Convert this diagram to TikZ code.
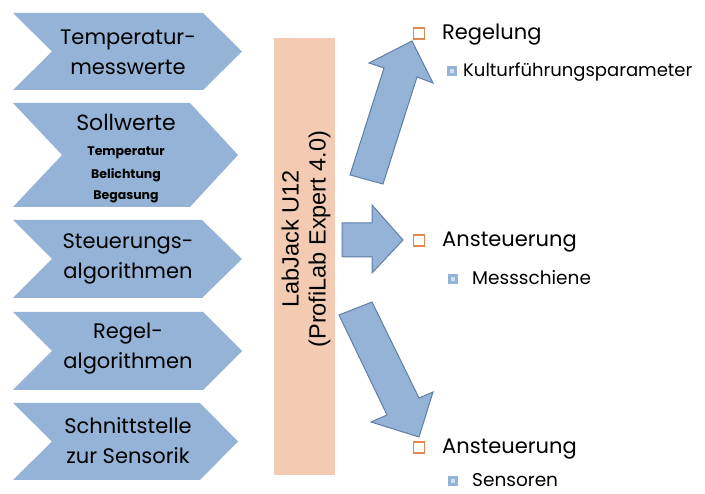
\documentclass[tikz,border=0pt]{standalone}
\usepackage{fontspec}
\setmainfont{Poppins}
\newfontfamily\arialf{Liberation Sans}
\definecolor{chevblue}{HTML}{95B3D7}
\definecolor{arrowline}{HTML}{5F7FA5}
\definecolor{peach}{HTML}{F3CBB3}
\definecolor{bulor}{HTML}{E4894E}
\definecolor{bulin}{HTML}{D0DEEE}
\begin{document}
\begin{tikzpicture}[x=1pt,y=-1pt,
  chev/.style={fill=chevblue,draw=none},
  blockarrow/.style={fill=chevblue,draw=arrowline,line width=1pt,line join=miter},
  chevtext/.style={align=center,inner sep=0pt,font=\fontsize{21}{30}\selectfont},
  subtext/.style={align=center,inner sep=0pt,font=\bfseries\fontsize{12.5}{15}\selectfont},
  maintext/.style={anchor=base west,inner sep=0pt,font=\fontsize{21}{25}\selectfont},
  subitem/.style={anchor=base west,inner sep=0pt,font=\fontsize{18.5}{22}\selectfont},
  obullet/.style={draw=bulor,line width=1.5pt,minimum size=11pt,inner sep=0pt},
  bbullet/.style={fill=chevblue,minimum size=10pt,inner sep=0pt}
]
\useasboundingbox (0,0) rectangle (705,494);

% chevrons
\path[chev] (13,13) -- (203,13) -- (242,51.5) -- (203,90) -- (13,90) -- (52,51.5) -- cycle;
\path[chev] (13,103) -- (190,103) -- (238,155) -- (190,207) -- (13,207) -- (62,155) -- cycle;
\path[chev] (13,220) -- (202,220) -- (242,259) -- (202,298) -- (13,298) -- (52,259) -- cycle;
\path[chev] (13,312) -- (203,312) -- (242,351) -- (203,390) -- (13,390) -- (52,351) -- cycle;
\path[chev] (13,403) -- (200,403) -- (238,441.5) -- (200,480) -- (13,480) -- (52,441.5) -- cycle;

\node[chevtext] (t1) at (128,52) {Temperatur-\\messwerte};
\node[chevtext,font=\fontsize{22}{30}\selectfont] (t2) at (126,122) {Sollwerte};
\node[subtext] (t2a) at (126,153) {Temperatur};
\node[subtext] (t2b) at (126,175) {Belichtung};
\node[subtext] (t2c) at (126,197) {Begasung};
\node[chevtext] (t3) at (128,259) {Steuerungs-\\algorithmen};
\node[chevtext] (t4) at (128,349) {Regel-\\algorithmen};
\node[chevtext] (t5) at (128,441) {Schnittstelle\\zur Sensorik};

% LabJack box
\path[fill=peach] (274,38) rectangle (335,475);
\node[rotate=90,align=center,inner sep=0pt,font=\arialf\fontsize{23.5}{27}\selectfont] (lj) at (306,239) {LabJack U12\\(ProfiLab Expert 4.0)};

% block arrows
\draw[blockarrow] (350,175) -- (384,68) -- (369,63) -- (412,41) -- (433,83) -- (417,77) -- (383,184) -- cycle;
\draw[blockarrow] (342,223) -- (372,223) -- (372,205) -- (403,240) -- (372,273) -- (372,257) -- (342,257) -- cycle;
\draw[blockarrow] (339,315) -- (372,302) -- (419,398) -- (433,392) -- (419,437) -- (371,422) -- (387,415) -- cycle;

% bullets
\node[obullet] (o1) at (419,33.5) {};
\node[obullet] (o2) at (419,240.5) {};
\node[obullet] (o3) at (419,447.5) {};
\foreach \n/\x/\y in {s1/451.5/71.5, s2/453/279, s3/453/481}{
  \node[bbullet] (\n) at (\x,\y) {};
  \fill[bulin] (\x-2,\y-2) rectangle (\x+2,\y+2);
}

\node[maintext] (r1) at (442,40) {Regelung};
\node[anchor=base west,inner sep=0pt,font=\fontsize{18}{21}\selectfont] (r1a) at (463,77) {Kulturführungsparameter};
\node[maintext] (r2) at (442,247) {Ansteuerung};
\node[subitem] (r2a) at (472,285) {Messschiene};
\node[maintext] (r3) at (442,454) {Ansteuerung};
\node[subitem] (r3a) at (472,487) {Sensoren};
\end{tikzpicture}
\end{document}
